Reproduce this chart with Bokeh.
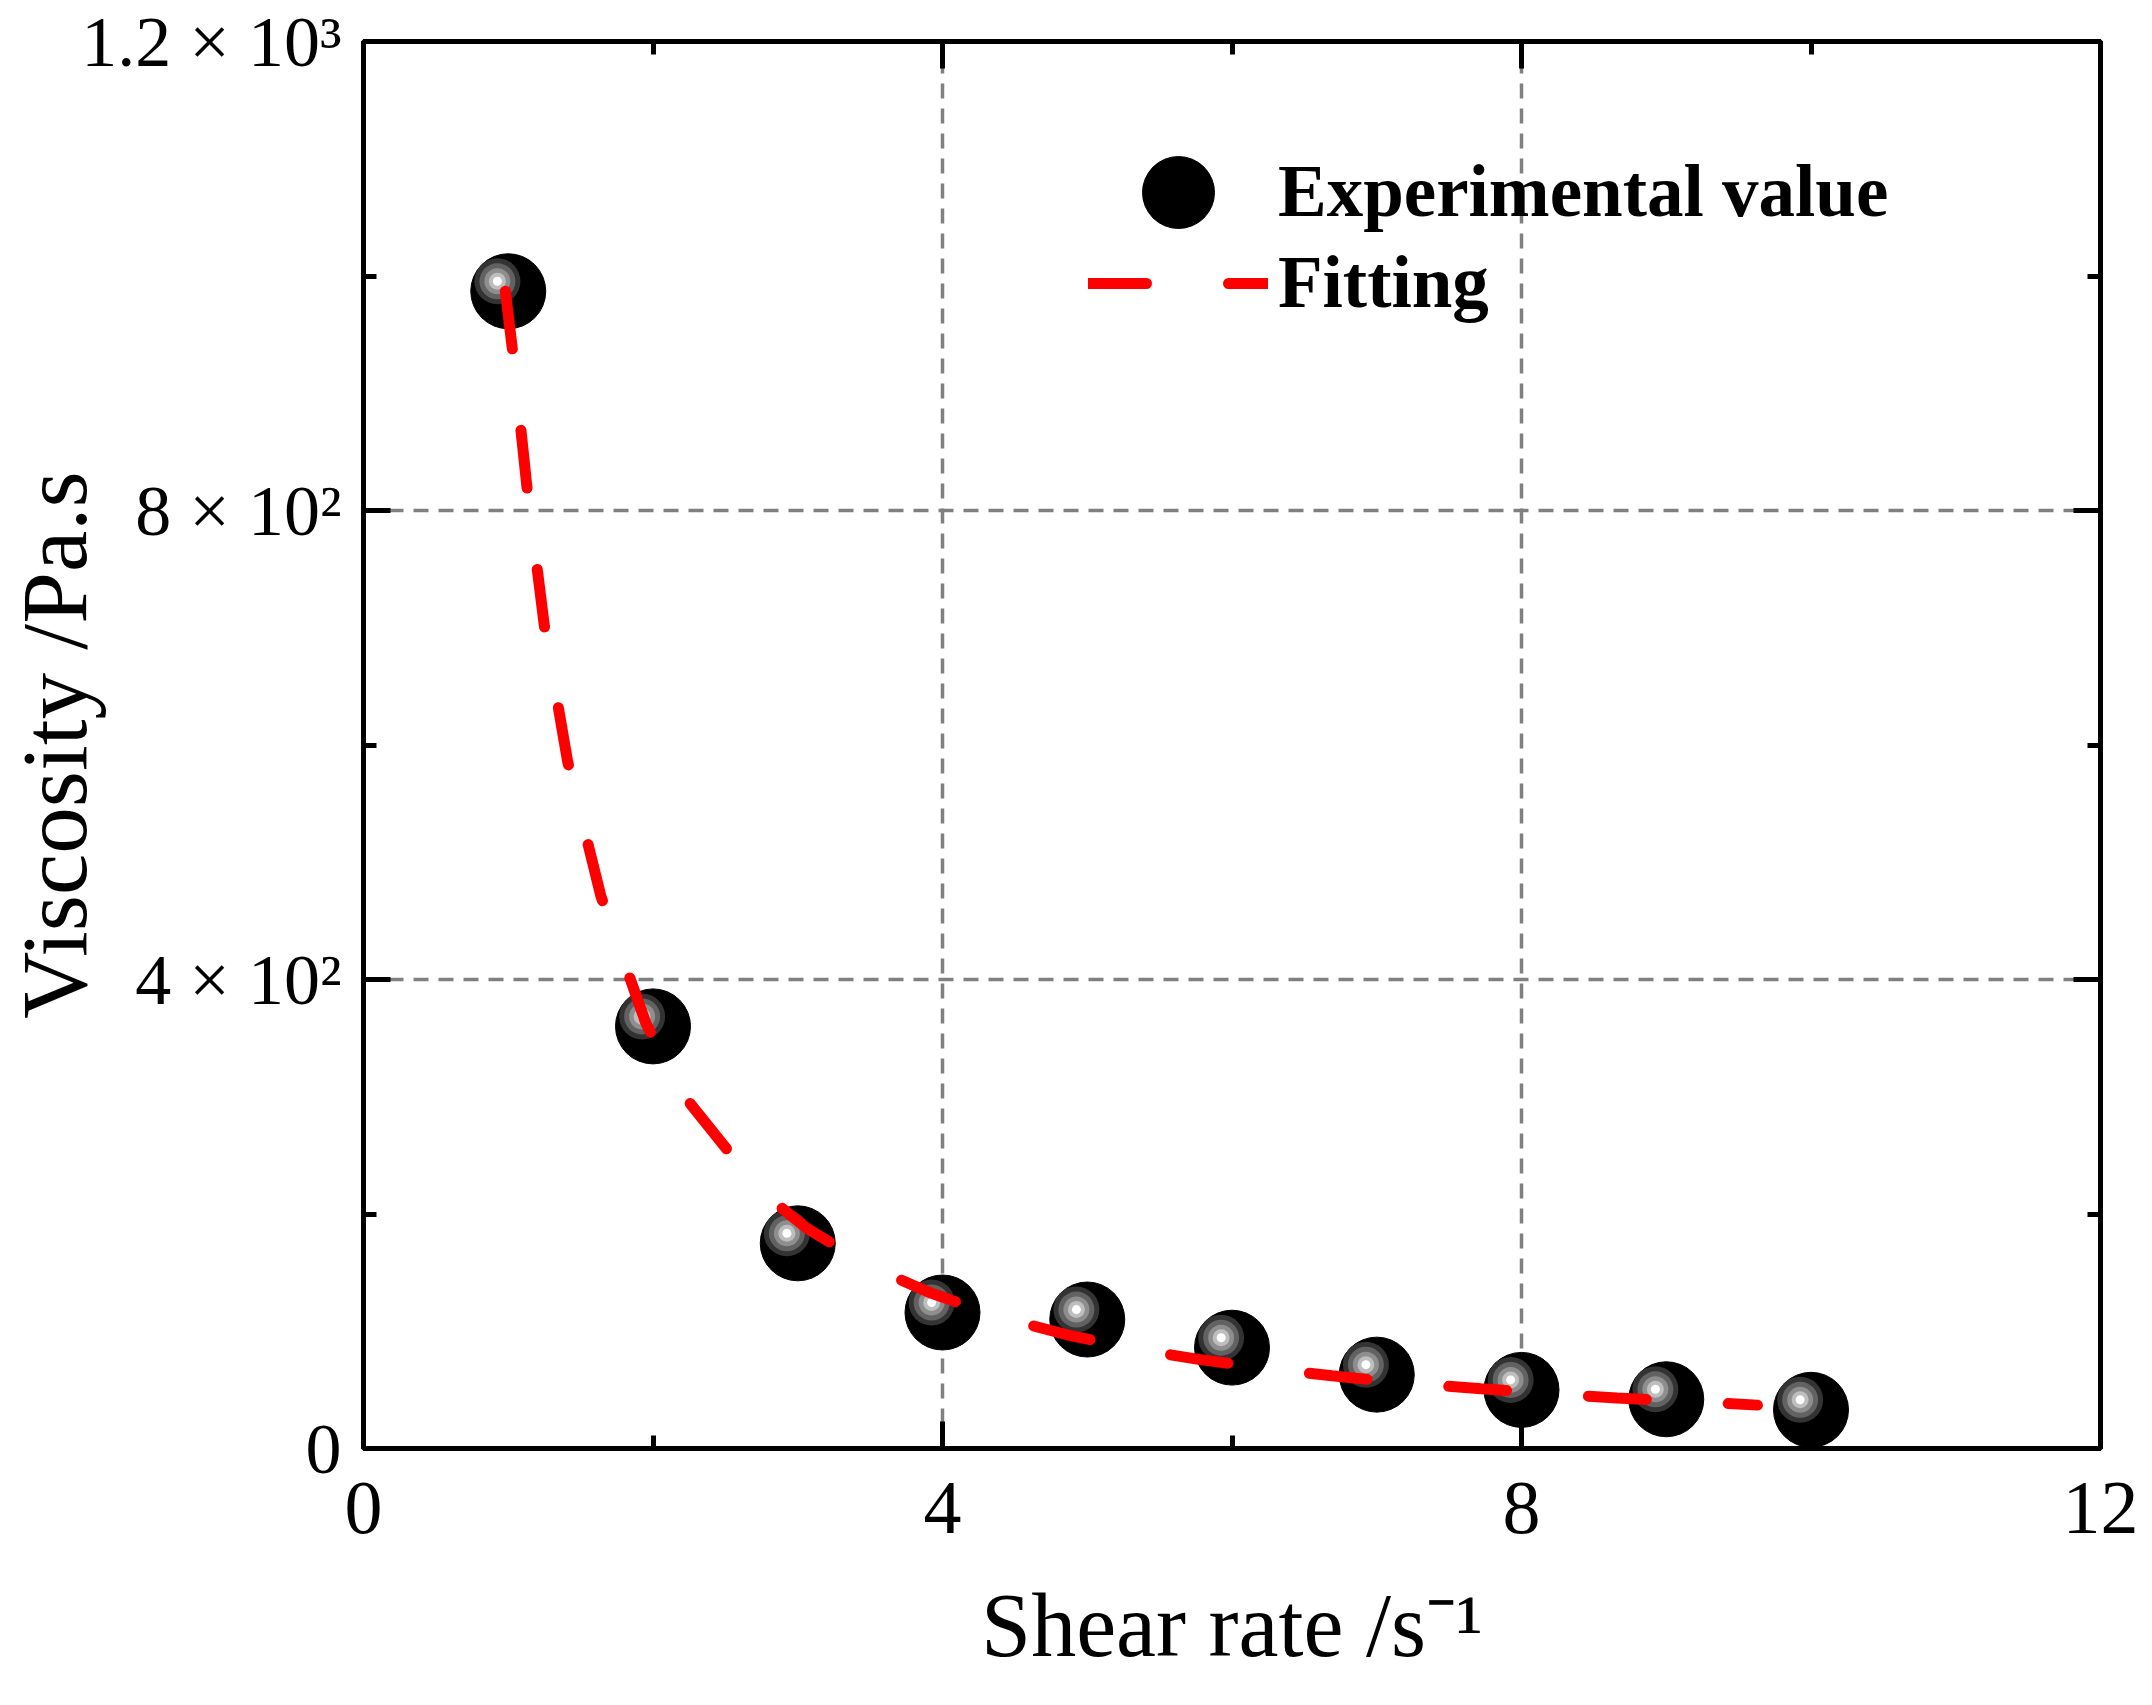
from bokeh.plotting import figure
from bokeh.models import (Range1d, FixedTicker, LinearAxis, Legend, LegendItem, Grid,
                          CustomLabelingPolicy)
from bokeh.embed import file_html
from bokeh.resources import INLINE

# ---- data ----
shear_rate = [1, 2, 3, 4, 5, 6, 7, 8, 9, 10]
viscosity = [987, 360, 175, 116, 110, 86, 63, 50, 42, 33]

fit_x = [0.98, 1.03, 1.13, 1.25, 1.41, 1.64, 1.95, 2.18, 2.74, 3.06, 3.49, 3.91,
         4.40, 4.86, 5.32, 5.77, 6.26, 6.69, 7.17, 7.72, 8.23, 8.66, 9.17, 9.63]
fit_y = [987, 936, 819, 701, 586, 471, 363, 306, 220, 188, 156, 133,
         112, 97, 85, 76, 68, 62, 56, 51, 46.5, 43, 40, 37]

x_ticks = [0, 4, 8, 12]
x_minor = [2, 6, 10]
x_tick_labels = ["0", "4", "8", "12"]
y_ticks = [0, 400, 800, 1200]
y_minor = [200, 600, 1000]
y_tick_labels = ["0", "4 × 10²", "8 × 10²", "1.2 × 10³"]
x_title = "Shear rate /s⁻¹"
y_title = "Viscosity /Pa.s"
series_names = ["Experimental value", "Fitting"]

FONT = "Liberation Serif"

p = figure(width=2152, height=1705,
           x_range=Range1d(0, 12), y_range=Range1d(0, 1200),
           output_backend="svg", toolbar_location=None,
           x_axis_location=None, y_axis_location=None,
           min_border_left=360, min_border_right=52,
           min_border_top=41, min_border_bottom=257,
           outline_line_color="black", outline_line_width=5,
           background_fill_color="white", border_fill_color="white")
# drop the default grids
p.center = [c for c in p.center if not isinstance(c, Grid)]

no_labels = CustomLabelingPolicy(code="return []")


def style_axis(ax, labels_on, font_size):
    ax.axis_line_width = 5
    ax.axis_line_color = "black"
    ax.major_tick_in = 27
    ax.major_tick_out = 0
    ax.minor_tick_in = 13
    ax.minor_tick_out = 0
    ax.major_tick_line_width = 5
    ax.minor_tick_line_width = 5
    ax.major_tick_line_color = "black"
    ax.minor_tick_line_color = "black"
    ax.major_label_text_font = FONT
    ax.major_label_text_color = "black"
    ax.major_label_text_font_size = font_size
    if not labels_on:
        ax.major_label_policy = no_labels
        ax.major_label_standoff = 0


xb = LinearAxis(ticker=FixedTicker(ticks=x_ticks, minor_ticks=x_minor),
                major_label_overrides=dict(zip(x_ticks, x_tick_labels)),
                axis_label=x_title)
style_axis(xb, True, "76px")
xb.major_label_standoff = 34
xb.axis_label_text_font = FONT
xb.axis_label_text_font_size = "90px"
xb.axis_label_text_font_style = "normal"
xb.axis_label_text_color = "black"
xb.axis_label_standoff = 40
p.add_layout(xb, "below")

yl = LinearAxis(ticker=FixedTicker(ticks=y_ticks, minor_ticks=y_minor),
                major_label_overrides=dict(zip(y_ticks, y_tick_labels)),
                axis_label=y_title)
style_axis(yl, True, "72px")
yl.major_label_standoff = 22
yl.axis_label_text_font = FONT
yl.axis_label_text_font_size = "93px"
yl.axis_label_text_font_style = "normal"
yl.axis_label_text_color = "black"
yl.axis_label_standoff = -28
p.add_layout(yl, "left")

xt = LinearAxis(ticker=FixedTicker(ticks=x_ticks, minor_ticks=x_minor))
style_axis(xt, False, "10px")
p.add_layout(xt, "above")
yr = LinearAxis(ticker=FixedTicker(ticks=y_ticks, minor_ticks=y_minor))
style_axis(yr, False, "10px")
p.add_layout(yr, "right")

grid_x = Grid(dimension=0, ticker=FixedTicker(ticks=x_ticks[1:-1]),
              grid_line_color="#808080", grid_line_width=3.5, grid_line_dash="15 10")
grid_y = Grid(dimension=1, ticker=FixedTicker(ticks=y_ticks[1:-1]),
              grid_line_color="#808080", grid_line_width=3.5, grid_line_dash="15 10")
p.add_layout(grid_x)
p.add_layout(grid_y)

# experimental points: black ball with an offset highlight
r_pts = p.scatter(shear_rate, viscosity, size=75, marker="circle",
                  fill_color="black", line_color="black", line_width=1)
hx = [x - 0.075 for x in shear_rate]
hy = [y + 8.5 for y in viscosity]
hl_sizes = [46, 36, 26, 17, 9]
hl_colors = ["#333333", "#626262", "#8e8e8e", "#bebebe", "#ffffff"]
for s, c in zip(hl_sizes, hl_colors):
    p.scatter(hx, hy, size=s, marker="circle", fill_color=c, line_color=None)

r_fit = p.line(fit_x, fit_y, line_color="#ff0000", line_width=11,
               line_dash="58 82", line_cap="round")

leg_style = dict(orientation="vertical", label_text_font=FONT,
                 label_text_font_style="bold", label_text_font_size="73px",
                 label_text_color="black", label_standoff=10,
                 padding=0, margin=0, border_line_color=None,
                 background_fill_alpha=0)
legend_a = Legend(items=[LegendItem(label=series_names[0], renderers=[r_pts])],
                  location=(725, 1166), glyph_width=180, glyph_height=180,
                  **leg_style)
legend_b = Legend(items=[LegendItem(label=series_names[1], renderers=[r_fit])],
                  location=(725, 1120), glyph_width=180, glyph_height=90,
                  **leg_style)
p.add_layout(legend_a)
p.add_layout(legend_b)

open("out.html", "w").write(file_html(p, INLINE))
